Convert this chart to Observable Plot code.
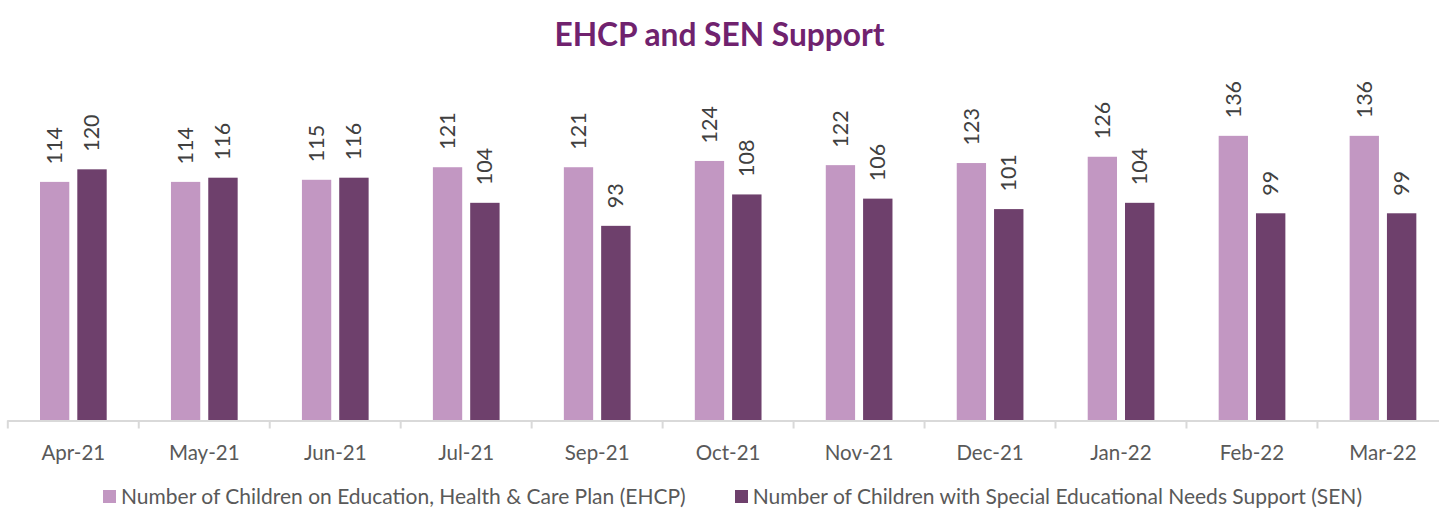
<!DOCTYPE html>
<html>
<head>
<meta charset="utf-8">
<script src="https://cdn.jsdelivr.net/npm/d3@7"></script>
<script src="https://cdn.jsdelivr.net/npm/@observablehq/plot@0.6"></script>
<style>
  html, body { margin: 0; padding: 0; background: #fff; overflow: hidden; }
  #title { height: 68px; line-height: 68px; text-align: center; font-family: Lato, "Open Sans", sans-serif;
           font-weight: 700; font-size: 31.7px; color: #70226e; }
  #legend { display: flex; justify-content: center; gap: 49px; margin-top: 11px; height: 24px;
            font-family: Lato, "Open Sans", sans-serif; font-size: 21px; color: #595959; line-height: 24px;
            padding-left: 26px; }
  #legend span.item { display: flex; align-items: center; gap: 5px; white-space: nowrap; }
  #legend span.sw { display: inline-block; width: 13px; height: 13px; }
  svg { display: block; overflow: visible; }
</style>
</head>
<body>
<div id="title">EHCP and SEN Support</div>
<div id="chart"></div>
<div id="legend"></div>
<script>
const months = ["Apr-21","May-21","Jun-21","Jul-21","Sep-21","Oct-21","Nov-21","Dec-21","Jan-22","Feb-22","Mar-22"];
const ehcp = [114,114,115,121,121,124,122,123,126,136,136];
const sen  = [120,116,116,104,93,108,106,101,104,99,99];
const seriesNames = [
  "Number of Children on Education, Health & Care Plan (EHCP)",
  "Number of Children with Special Educational Needs Support (SEN)"
];
const colors = ["#c297c2", "#6e406c"];

const ehcpData = months.map((m, i) => ({month: m, value: ehcp[i]}));
const senData = months.map((m, i) => ({month: m, value: sen[i]}));

const W = 1439, H = 405, mL = 7.3, mR = -8.9;
const bw = (W - mL - mR) / months.length;
const half = bw / 2;
// bar geometry relative to band
const eL = 32.7, eR = bw - 62, sL = 70, sR = bw - 99.4;
const eCenter = (eL + (bw - eR)) / 2 - half;
const sCenter = (sL + (bw - sR)) / 2 - half;

const chart = Plot.plot({
  width: W,
  height: H,
  marginLeft: mL,
  marginRight: mR,
  marginTop: 17.6,
  marginBottom: 52.5,
  style: {fontFamily: "Lato, 'Open Sans', sans-serif", background: "transparent"},
  x: {domain: months, padding: 0, round: false, axis: null},
  y: {domain: [0, 160], axis: null},
  marks: [
    Plot.barY(ehcpData, {x: "month", y: "value", fill: colors[0], insetLeft: eL, insetRight: eR}),
    Plot.barY(senData, {x: "month", y: "value", fill: colors[1], insetLeft: sL, insetRight: sR}),
    Plot.ruleY([0], {stroke: "#d9d9d9", strokeWidth: 2}),
    Plot.ruleX(months, {x: d => d, y1: 0, y2: 0, dx: -half, insetBottom: -8, stroke: "#d9d9d9", strokeWidth: 2}),
    Plot.ruleX([months[months.length - 1]], {x: d => d, y1: 0, y2: 0, dx: half, insetBottom: -8, stroke: "#d9d9d9", strokeWidth: 2}),
    Plot.axisX({domain: months, tickSize: 0, tickPadding: 24, fontSize: 20.5, fill: "#595959", label: null}),
    Plot.text(ehcpData, {x: "month", y: "value", text: d => String(d.value), rotate: -90, textAnchor: "start",
      lineAnchor: "middle", dx: eCenter, dy: -18, fontSize: 21.5, fill: "#404040"}),
    Plot.text(senData, {x: "month", y: "value", text: d => String(d.value), rotate: -90, textAnchor: "start",
      lineAnchor: "middle", dx: sCenter, dy: -18, fontSize: 21.5, fill: "#404040"})
  ]
});
document.getElementById("chart").appendChild(chart);

const legend = document.getElementById("legend");
seriesNames.forEach((name, i) => {
  const item = document.createElement("span");
  item.className = "item";
  const sw = document.createElement("span");
  sw.className = "sw";
  sw.style.background = colors[i];
  const t = document.createElement("span");
  t.textContent = name;
  item.appendChild(sw);
  item.appendChild(t);
  legend.appendChild(item);
});
</script>
</body>
</html>
